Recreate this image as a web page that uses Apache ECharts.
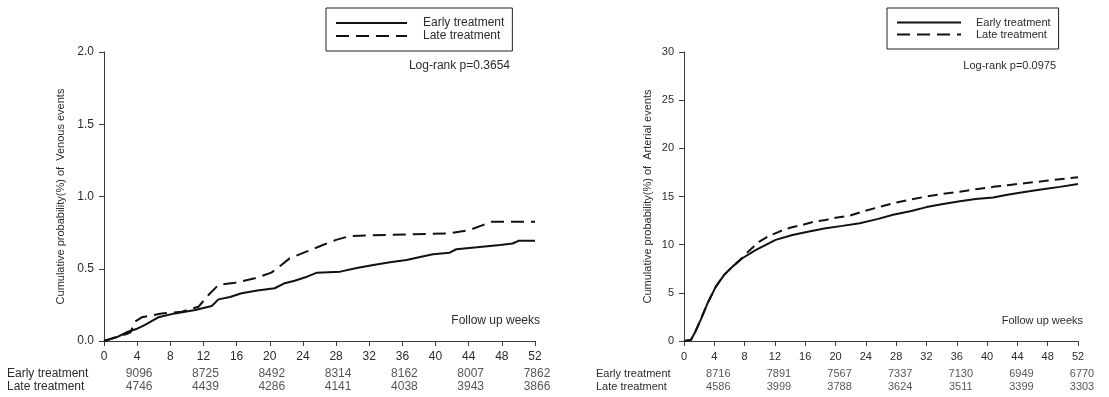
<!DOCTYPE html>
<html>
<head>
<meta charset="utf-8">
<script src="https://cdn.jsdelivr.net/npm/echarts@6/dist/echarts.min.js"></script>
<style>
  html, body { margin: 0; padding: 0; background: #fff; }
  #chart { width: 1109px; height: 397px; }
</style>
</head>
<body>
<div id="chart"></div>
<script>
// Kaplan-Meier style cumulative incidence: [week, percent]
const venousEarly = [
  [0, 0], [1.5, 0.025], [2.9, 0.064], [4.0, 0.085], [4.95, 0.111], [5.8, 0.14], [6.55, 0.164],
  [8.56, 0.191], [11.0, 0.214], [13.0, 0.242], [13.8, 0.288], [15.2, 0.305], [16.6, 0.33],
  [18.5, 0.35], [20.6, 0.365], [21.8, 0.40], [23.0, 0.417], [24.5, 0.445], [25.7, 0.473],
  [28.5, 0.48], [30.5, 0.505], [32.5, 0.526], [34.5, 0.545], [36.5, 0.56], [38.0, 0.58],
  [39.7, 0.60], [41.7, 0.611], [42.5, 0.635], [45, 0.648], [47.8, 0.664], [49.3, 0.675],
  [50, 0.693], [52, 0.693]
];
const venousLate = [
  [0, 0], [1.5, 0.028], [2.7, 0.048], [2.9, 0.035], [3.2, 0.06], [3.74, 0.134], [4.55, 0.164],
  [6.96, 0.19], [9.4, 0.203], [11.4, 0.237], [12.6, 0.318], [13.8, 0.388], [15.8, 0.403],
  [18.2, 0.434], [20.2, 0.473], [21.4, 0.526], [22.4, 0.572], [24.5, 0.62], [26.4, 0.664],
  [28, 0.70], [29.7, 0.727], [34.5, 0.734], [41.7, 0.745], [44.1, 0.768], [45.6, 0.80],
  [46.8, 0.826], [52, 0.826]
];
const arterialEarly = [
  [0, 0], [0.9, 0.1], [1.5, 0.97], [2.2, 2.2], [3.1, 3.9], [4.2, 5.65], [5.3, 6.86], [6.4, 7.72],
  [7.7, 8.59], [9.5, 9.46], [10.8, 9.98], [12.1, 10.5], [14.3, 11.0], [16.5, 11.36], [18.7, 11.7],
  [20.9, 11.95], [23.2, 12.23], [25.5, 12.65], [27.6, 13.1], [30, 13.5], [32, 13.9], [34, 14.2],
  [36.4, 14.5], [38.5, 14.75], [40.8, 14.9], [42.5, 15.15], [44.3, 15.4], [46, 15.6],
  [47.8, 15.8], [49.6, 16.0], [52, 16.3]
];
const arterialLate = [
  [0, 0], [0.9, 0.1], [1.5, 0.97], [2.2, 2.2], [3.1, 3.9], [4.2, 5.65], [5.3, 6.86], [6.4, 7.72],
  [7.7, 8.65], [8.5, 9.3], [9.9, 10.3], [11.2, 10.9], [12.6, 11.36], [14, 11.75], [15.6, 12.05],
  [17, 12.35], [18.7, 12.57], [20, 12.8], [21.8, 12.99], [23.6, 13.45], [25.5, 13.85],
  [27.6, 14.3], [30, 14.7], [32, 15.0], [34, 15.25], [36.4, 15.5], [38.5, 15.75], [40.8, 16.0],
  [43, 16.2], [45.2, 16.4], [47.5, 16.6], [49.6, 16.8], [52, 17.0]
];

// numbers at risk
const riskWeeks = [4, 12, 20, 28, 36, 44, 52];
const riskRows = ["Early treatment", "Late treatment"];
const venousRiskEarly = [9096, 8725, 8492, 8314, 8162, 8007, 7862];
const venousRiskLate = [4746, 4439, 4286, 4141, 4038, 3943, 3866];
const arterialRiskEarly = [8716, 7891, 7567, 7337, 7130, 6949, 6770];
const arterialRiskLate = [4586, 3999, 3788, 3624, 3511, 3399, 3303];

const TEXT = "#2b2b2b";
const LINE = "#111";
const AXIS = "#3a3a3a";
const FONT = "Liberation Sans, Arial, sans-serif";

function riskData(early, late) {
  const out = [];
  riskWeeks.forEach((w, i) => {
    out.push([w, 0, early[i]]);
    out.push([w, 1, late[i]]);
  });
  return out;
}

function mainAxes(idx, max, interval, fmt, fontSize, nameText, nameGap) {
  const x = {
    gridIndex: idx,
    type: "value",
    min: 0,
    max: 52,
    interval: 4,
    axisLine: { lineStyle: { color: AXIS, width: 1 } },
    axisTick: { length: 5, lineStyle: { color: AXIS } },
    axisLabel: { color: TEXT, fontSize: fontSize, fontFamily: FONT, margin: 10 },
    splitLine: { show: false },
  };
  const y = {
    gridIndex: idx,
    type: "value",
    min: 0,
    max: max,
    interval: interval,
    name: nameText,
    nameLocation: "middle",
    nameGap: nameGap,
    nameTextStyle: { color: TEXT, fontSize: 11, fontFamily: FONT },
    axisLine: { show: true, lineStyle: { color: AXIS, width: 1 } },
    axisTick: { show: true, length: 5, lineStyle: { color: AXIS } },
    axisLabel: { color: TEXT, fontSize: fontSize, fontFamily: FONT, margin: 10, formatter: fmt },
    splitLine: { show: false },
  };
  return [x, y];
}

function riskAxes(idx, labelMargin, fontSize) {
  const x = {
    gridIndex: idx, type: "value", min: 0, max: 52, show: false,
  };
  const y = {
    gridIndex: idx,
    type: "category",
    data: riskRows,
    inverse: true,
    axisLine: { show: false },
    axisTick: { show: false },
    axisLabel: {
      color: TEXT, fontSize: fontSize, fontFamily: FONT,
      align: "left", margin: labelMargin, interval: 0,
    },
  };
  return [x, y];
}

const [vx, vy] = mainAxes(0, 2, 0.5, (v) => v.toFixed(1), 12,
  "Cumulative probability(%) of  Venous events", 38);
const [ax, ay] = mainAxes(1, 30, 5, (v) => String(v), 11,
  "Cumulative probability(%) of  Arterial events", 31);
const [vrx, vry] = riskAxes(2, 97, 12);
const [arx, ary] = riskAxes(3, 88, 11);

function curve(name, data, xi, dash) {
  return {
    name: name,
    type: "line",
    xAxisIndex: xi,
    yAxisIndex: xi,
    data: data,
    symbol: "none",
    smooth: false,
    itemStyle: { color: LINE },
    lineStyle: { color: LINE, width: 2, type: dash || "solid" },
    z: dash ? 4 : 5,
  };
}

function riskSeries(data, xi, fontSize, dx) {
  return {
    type: "scatter",
    xAxisIndex: xi,
    yAxisIndex: xi,
    symbolSize: 0,
    silent: true,
    data: data,
    label: {
      show: true,
      position: "inside",
      offset: [dx, 0],
      color: TEXT,
      fontSize: fontSize,
      fontFamily: FONT,
      formatter: (p) => String(p.value[2]),
    },
  };
}

function legendBox(left, top, itemWidth, textPad, fontSize) {
  return {
    show: true,
    orient: "vertical",
    left: left,
    top: top,
    itemWidth: itemWidth,
    itemHeight: 12,
    itemGap: 1,
    padding: [9, 8, 9, 9],
    borderColor: "#222",
    borderWidth: 1,
    selectedMode: false,
    itemStyle: { opacity: 0 },
    textStyle: { color: TEXT, fontSize: fontSize, fontFamily: FONT, padding: [0, 0, 0, textPad] },
    data: ["Early treatment", "Late treatment"],
  };
}

const chart = echarts.init(document.getElementById("chart"), null, { renderer: "canvas" });

chart.setOption({
  animation: false,
  backgroundColor: "#fff",
  textStyle: { fontFamily: FONT },
  grid: [
    { left: 104, width: 431, top: 52, height: 289 },
    { left: 684, width: 394, top: 52, height: 289 },
    { left: 104, width: 431, top: 367.5, height: 26 },
    { left: 684, width: 394, top: 367.5, height: 26 },
  ],
  xAxis: [vx, ax, vrx, arx],
  yAxis: [vy, ay, vry, ary],
  legend: [
    legendBox(326, 8, 71, 11, 12),
    legendBox(887, 8, 64, 10, 11),
  ],
  title: [
    { text: "Log-rank p=0.3654", right: 599, top: 60, padding: 0,
      textStyle: { color: TEXT, fontSize: 12, fontWeight: "normal", fontFamily: FONT } },
    { text: "Follow up weeks", right: 569, top: 315, padding: 0,
      textStyle: { color: TEXT, fontSize: 12, fontWeight: "normal", fontFamily: FONT } },
    { text: "Log-rank p=0.0975", right: 53, top: 60, padding: 0,
      textStyle: { color: TEXT, fontSize: 11, fontWeight: "normal", fontFamily: FONT } },
    { text: "Follow up weeks", right: 26, top: 315, padding: 0,
      textStyle: { color: TEXT, fontSize: 11, fontWeight: "normal", fontFamily: FONT } },
  ],
  series: [
    curve("Early treatment", venousEarly, 0),
    curve("Late treatment", venousLate, 0, [13, 7]),
    curve("Early treatment", arterialEarly, 1),
    curve("Late treatment", arterialLate, 1, [10, 6]),
    riskSeries(riskData(venousRiskEarly, venousRiskLate), 2, 12, 2),
    riskSeries(riskData(arterialRiskEarly, arterialRiskLate), 3, 11, 4),
  ],
});
</script>
</body>
</html>
